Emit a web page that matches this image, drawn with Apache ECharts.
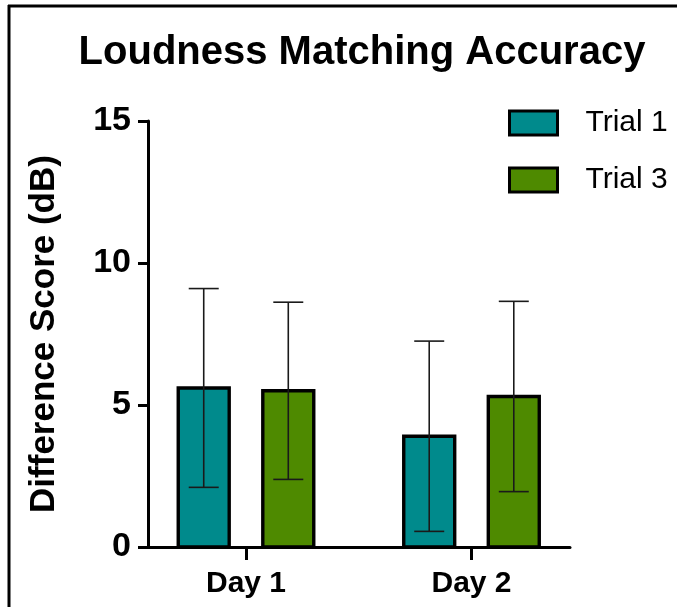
<!DOCTYPE html>
<html>
<head>
<meta charset="utf-8">
<script src="https://cdn.jsdelivr.net/npm/echarts@6/dist/echarts.min.js"></script>
<style>
  html, body { margin: 0; padding: 0; background: #fff; }
  #chart { width: 677px; height: 607px; }
</style>
</head>
<body>
<div id="chart"></div>
<script>
// Group labels on the x axis
const categories = ['Day 1', 'Day 2'];
// Series names
const seriesNames = ['Trial 1', 'Trial 3'];
// Mean difference score (dB) per day
const trial1Mean = [5.6, 3.9];
const trial3Mean = [5.5, 5.3];
// Standard deviation per day
const trial1SD = [3.5, 3.35];
const trial3SD = [3.12, 3.35];
// Y axis ticks
const yTicks = [0, 5, 10, 15];

const FONT = '"Liberation Sans", Arial, Helvetica, sans-serif';
const colors = ['#008a8c', '#4e8a00'];

// Per-series bar offset within a day group (fraction of the group spacing)
const groupOffsets = [-0.1875, 0.1875];
const barFrac = 0.226;
const capFrac = 0.133;

function makeBarSeries(si, means, sds) {
  const data = means.map((m, i) => [i, m, sds[i]]);
  return {
    name: seriesNames[si],
    type: 'custom',
    itemStyle: { color: colors[si] },
    data: data,
    encode: { x: 0, y: 1 },
    renderItem: function (params, api) {
      const cat = api.value(0);
      const mean = api.value(1);
      const sd = api.value(2);
      const band = api.size([1, 0])[0];
      const base = api.coord([cat, 0]);
      const cx = base[0] + groupOffsets[si] * band;
      const top = api.coord([cat, mean])[1];
      const hi = api.coord([cat, mean + sd])[1];
      const lo = api.coord([cat, mean - sd])[1];
      const w = barFrac * band;
      const cap = capFrac * band / 2;
      const errStyle = { stroke: '#1a1a1a', lineWidth: 1.6 };
      return {
        type: 'group',
        children: [
          {
            type: 'rect',
            shape: { x: cx - w / 2, y: top, width: w, height: base[1] - top },
            style: { fill: colors[si], stroke: '#000', lineWidth: 3.4 }
          },
          { type: 'line', shape: { x1: cx, y1: hi, x2: cx, y2: lo }, style: errStyle },
          { type: 'line', shape: { x1: cx - cap, y1: hi, x2: cx + cap, y2: hi }, style: errStyle },
          { type: 'line', shape: { x1: cx - cap, y1: lo, x2: cx + cap, y2: lo }, style: errStyle }
        ]
      };
    }
  };
}

const chart = echarts.init(document.getElementById('chart'), null, { renderer: 'canvas' });

chart.setOption({
  backgroundColor: '#fff',
  animation: false,
  title: {
    text: 'Loudness Matching Accuracy',
    left: 357,
    top: 28,
    textAlign: 'center',
    textStyle: { fontFamily: FONT, fontSize: 40, fontWeight: 'bold', color: '#000' }
  },
  legend: {
    orient: 'vertical',
    left: 508,
    top: 108,
    padding: 0,
    icon: 'rect',
    itemWidth: 48,
    itemHeight: 24,
    itemGap: 27,
    itemStyle: { borderColor: '#000', borderWidth: 3 },
    textStyle: { fontFamily: FONT, fontSize: 30, color: '#000', padding: [0, 0, 0, 23] },
    data: seriesNames
  },
  grid: { left: 148, right: 107, top: 121, bottom: 60 },
  xAxis: {
    type: 'value',
    min: -0.4346,
    max: 1.4368,
    splitLine: { show: false },
    axisLine: { show: true, lineStyle: { color: '#000', width: 3 } },
    axisTick: {
      show: true,
      customValues: [0, 1],
      length: 13,
      lineStyle: { color: '#000', width: 3 }
    },
    axisLabel: {
      customValues: [0, 1],
      formatter: function (v) { return categories[Math.round(v)]; },
      margin: 22,
      fontFamily: FONT,
      fontSize: 30,
      fontWeight: 'bold',
      color: '#000'
    }
  },
  yAxis: {
    type: 'value',
    min: 0,
    max: 15,
    interval: 5,
    name: 'Difference Score (dB)',
    nameLocation: 'middle',
    nameGap: 86,
    nameTextStyle: { fontFamily: FONT, fontSize: 35, fontWeight: 'bold', color: '#000' },
    splitLine: { show: false },
    axisLine: { show: true, onZero: false, lineStyle: { color: '#000', width: 3 } },
    axisTick: { show: true, length: 10, lineStyle: { color: '#000', width: 3 } },
    axisLabel: {
      margin: 17,
      fontFamily: FONT,
      fontSize: 34,
      fontWeight: 'bold',
      color: '#000',
      formatter: function (v) { return yTicks.indexOf(v) >= 0 ? String(v) : ''; }
    }
  },
  graphic: [
    // Frame edges along the top and left of the figure
    { type: 'line', shape: { x1: 8, y1: 6, x2: 677, y2: 6 }, style: { stroke: '#000', lineWidth: 3 }, silent: true },
    { type: 'line', shape: { x1: 9, y1: 5, x2: 9, y2: 607 }, style: { stroke: '#000', lineWidth: 3 }, silent: true }
  ],
  series: [
    makeBarSeries(0, trial1Mean, trial1SD),
    makeBarSeries(1, trial3Mean, trial3SD)
  ]
});
</script>
</body>
</html>
